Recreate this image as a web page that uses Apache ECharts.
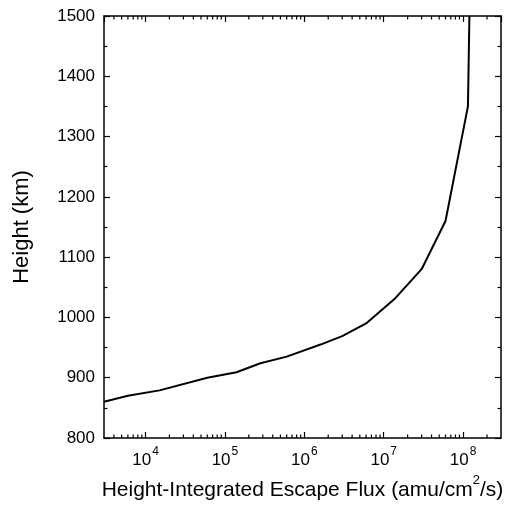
<!DOCTYPE html>
<html>
<head>
<meta charset="utf-8">
<script src="https://cdn.jsdelivr.net/npm/echarts@6/dist/echarts.min.js"></script>
<style>
  html, body { margin: 0; padding: 0; background: #fff; }
  #chart { width: 508px; height: 510px; }
</style>
</head>
<body>
<div id="chart"></div>
<script>
// escape flux (amu/cm^2/s) vs height (km)
const flux = [3000, 6000, 15000, 60000, 140000, 280000, 600000, 1600000, 3000000, 6000000, 14000000, 30000000, 60000000, 115000000, 120000000];
const height = [860, 870, 879, 900, 909, 924, 935, 955, 969, 990, 1032, 1080, 1160, 1350, 1500];

const xMin = 3000, xMax = 300000000;
const yMin = 800, yMax = 1500;

const font = '"Liberation Sans", Arial, sans-serif';

// minor ticks on the log axis: 2..9 x 10^n inside the range
const minorVals = [];
for (let e = 3; e <= 8; e++) {
  for (let k = 2; k <= 9; k++) {
    const v = k * Math.pow(10, e);
    if (v > xMin && v < xMax) minorVals.push([v, yMin]);
  }
}

const chart = echarts.init(document.getElementById('chart'));

const axisLine = { show: true, lineStyle: { color: '#000', width: 1.5 } };
const tick = { inside: true, length: 6, lineStyle: { color: '#000', width: 1.2 } };

chart.setOption({
  animation: false,
  grid: { left: 104, right: 7, top: 16, bottom: 72 },
  xAxis: [
    {
      type: 'log', logBase: 10, min: xMin, max: xMax, splitNumber: 5,
      position: 'bottom',
      name: '{n|Height-Integrated Escape Flux (amu/cm}{sup|2}{n|/s)}',
      nameLocation: 'middle', nameGap: 36,
      nameTextStyle: {
        color: '#000', fontSize: 21, fontFamily: font,
        rich: {
          n: { fontSize: 21, fontFamily: font, color: '#000', verticalAlign: 'bottom', padding: [6, 0, 0, 0] },
          sup: { fontSize: 13, fontFamily: font, color: '#000', verticalAlign: 'top' }
        }
      },
      axisLine: axisLine,
      axisTick: tick,
      splitLine: { show: false },
      axisLabel: {
        margin: 8, showMinLabel: false, showMaxLabel: false,
        formatter: function (v) {
          return '{b|10}{s|' + Math.round(Math.log10(v)) + '}';
        },
        rich: {
          b: { fontSize: 17, fontFamily: font, color: '#000', verticalAlign: 'bottom', padding: [6, 0, 0, 0] },
          s: { fontSize: 12, fontFamily: font, color: '#000', verticalAlign: 'top', padding: [0, 0, 0, 1] }
        }
      }
    },
    {
      type: 'log', logBase: 10, min: xMin, max: xMax, splitNumber: 5,
      position: 'top',
      axisLine: axisLine,
      axisTick: tick,
      axisLabel: { show: false },
      splitLine: { show: false }
    }
  ],
  yAxis: [
    {
      type: 'value', min: yMin, max: yMax, interval: 100,
      position: 'left',
      name: 'Height (km)', nameLocation: 'middle', nameGap: 71,
      nameTextStyle: { color: '#000', fontSize: 22, fontFamily: font },
      axisLine: axisLine,
      axisTick: tick,
      minorTick: { show: true, splitNumber: 2, length: 3.5, lineStyle: { color: '#000', width: 1.2 } },
      splitLine: { show: false },
      axisLabel: { margin: 9, color: '#000', fontSize: 17, fontFamily: font, formatter: v => String(v) }
    },
    {
      type: 'value', min: yMin, max: yMax, interval: 100,
      position: 'right',
      axisLine: axisLine,
      axisTick: tick,
      minorTick: { show: true, splitNumber: 2, length: 3.5, lineStyle: { color: '#000', width: 1.2 } },
      splitLine: { show: false },
      axisLabel: { show: false }
    }
  ],
  series: [
    {
      type: 'line',
      xAxisIndex: 0, yAxisIndex: 0,
      data: flux.map((f, i) => [f, height[i]]),
      showSymbol: false,
      lineStyle: { color: '#000', width: 2 },
      z: 3
    },
    {
      type: 'custom',
      xAxisIndex: 0, yAxisIndex: 0,
      data: minorVals,
      silent: true,
      clip: false,
      renderItem: function (params, api) {
        const b = api.coord([api.value(0), yMin]);
        const t = api.coord([api.value(0), yMax]);
        const st = { stroke: '#000', lineWidth: 1.2 };
        return {
          type: 'group',
          children: [
            { type: 'line', shape: { x1: b[0], y1: b[1], x2: b[0], y2: b[1] - 3.5 }, style: st },
            { type: 'line', shape: { x1: t[0], y1: t[1], x2: t[0], y2: t[1] + 3.5 }, style: st }
          ]
        };
      }
    }
  ]
});
</script>
</body>
</html>
